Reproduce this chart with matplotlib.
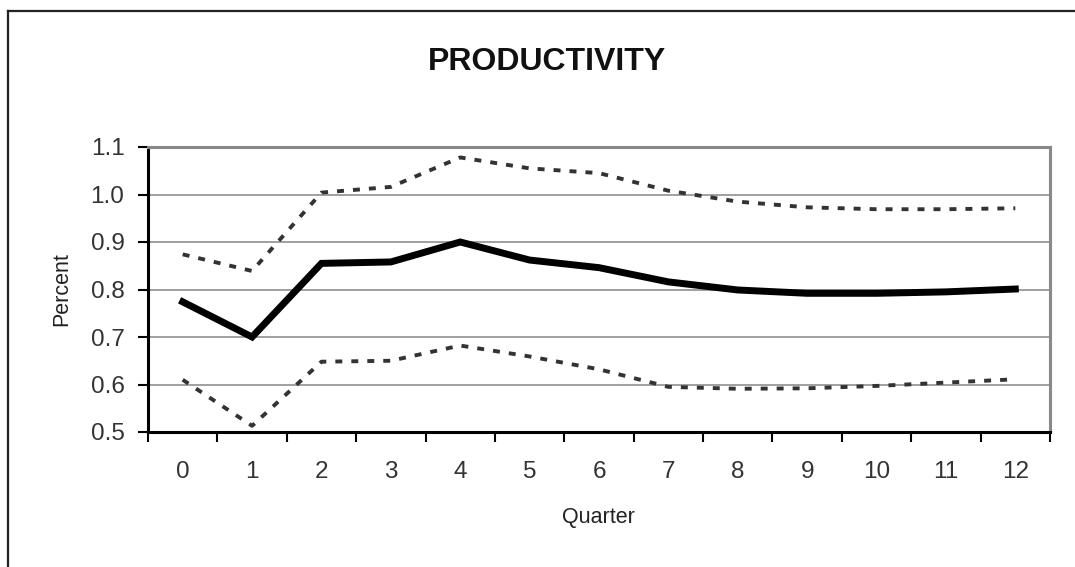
import matplotlib
matplotlib.use("Agg")
import matplotlib.pyplot as plt
from matplotlib.lines import Line2D

plt.rcParams['font.family'] = ['Liberation Sans', 'DejaVu Sans']
plt.rcParams['lines.scale_dashes'] = False

quarters = list(range(13))
tick_labels = [str(q) for q in quarters]
central = [0.774, 0.700, 0.855, 0.858, 0.900, 0.862, 0.846, 0.816, 0.799, 0.792, 0.792, 0.795, 0.801]
upper = [0.874, 0.839, 1.004, 1.016, 1.078, 1.055, 1.045, 1.008, 0.985, 0.973, 0.969, 0.969, 0.971]
lower = [0.610, 0.513, 0.648, 0.650, 0.682, 0.659, 0.632, 0.595, 0.591, 0.592, 0.597, 0.604, 0.611]
y_ticks = [0.5, 0.6, 0.7, 0.8, 0.9, 1.0, 1.1]
y_tick_labels = ["0.5", "0.6", "0.7", "0.8", "0.9", "1.0", "1.1"]

W, H = 1075, 567
fig = plt.figure(figsize=(W / 100, H / 100), dpi=100)
fig.patch.set_facecolor('white')

# outer frame (top and left edges visible)
fig.add_artist(Line2D([8 / W, 8 / W], [0, 1 - 11 / H], transform=fig.transFigure,
                      color='#222222', lw=1.6))
fig.add_artist(Line2D([8 / W, 1], [1 - 11 / H, 1 - 11 / H], transform=fig.transFigure,
                      color='#222222', lw=1.6))

left, right, top, bottom = 148, 1050, 147, 432
ax = fig.add_axes([left / W, 1 - bottom / H, (right - left) / W, (bottom - top) / H])

ax.plot(quarters, upper, color='#333333', lw=2.8, linestyle=(0, (5, 6.5)),
        dash_capstyle='butt', zorder=3)
ax.plot(quarters, lower, color='#333333', lw=2.8, linestyle=(0, (5, 6.5)),
        dash_capstyle='butt', zorder=3)
ax.plot(quarters, central, color='black', lw=5, solid_joinstyle='miter', zorder=4)

ax.set_xlim(-0.5, 12.5)
ax.set_ylim(0.5, 1.1)
ax.set_yticks(y_ticks)
ax.set_yticklabels(y_tick_labels)
ax.set_xticks(quarters)
ax.set_xticklabels(tick_labels)
ax.set_xticks([q - 0.5 for q in quarters] + [12.5], minor=True)

ax.yaxis.grid(True, color='#999999', lw=1.3)
ax.set_axisbelow(True)

ax.tick_params(axis='x', which='major', length=0, pad=21, labelsize=17.5)
ax.tick_params(axis='x', which='minor', length=7, width=1.5, direction='out', color='black')
ax.tick_params(axis='y', which='major', length=7, width=1.5, direction='out', pad=10, labelsize=17.5,
               color='black')
for lab in ax.get_xticklabels() + ax.get_yticklabels():
    lab.set_color('#333333')

for s in ['left', 'bottom']:
    ax.spines[s].set_color('black')
    ax.spines[s].set_linewidth(2.2)
for s in ['top', 'right']:
    ax.spines[s].set_color('#888888')
    ax.spines[s].set_linewidth(2.2)

fig.text(547 / W, 1 - 62 / H, 'PRODUCTIVITY', ha='center', va='center',
         fontsize=23, fontweight='bold', color='#111111')
fig.text(598 / W, 1 - 517 / H, 'Quarter', ha='center', va='center', fontsize=15.5, color='#222222')
fig.text(62 / W, 1 - 289 / H, 'Percent', ha='center', va='center', rotation=90,
         fontsize=15.5, color='#222222')

fig.savefig('out.png', dpi=100, facecolor='white')
